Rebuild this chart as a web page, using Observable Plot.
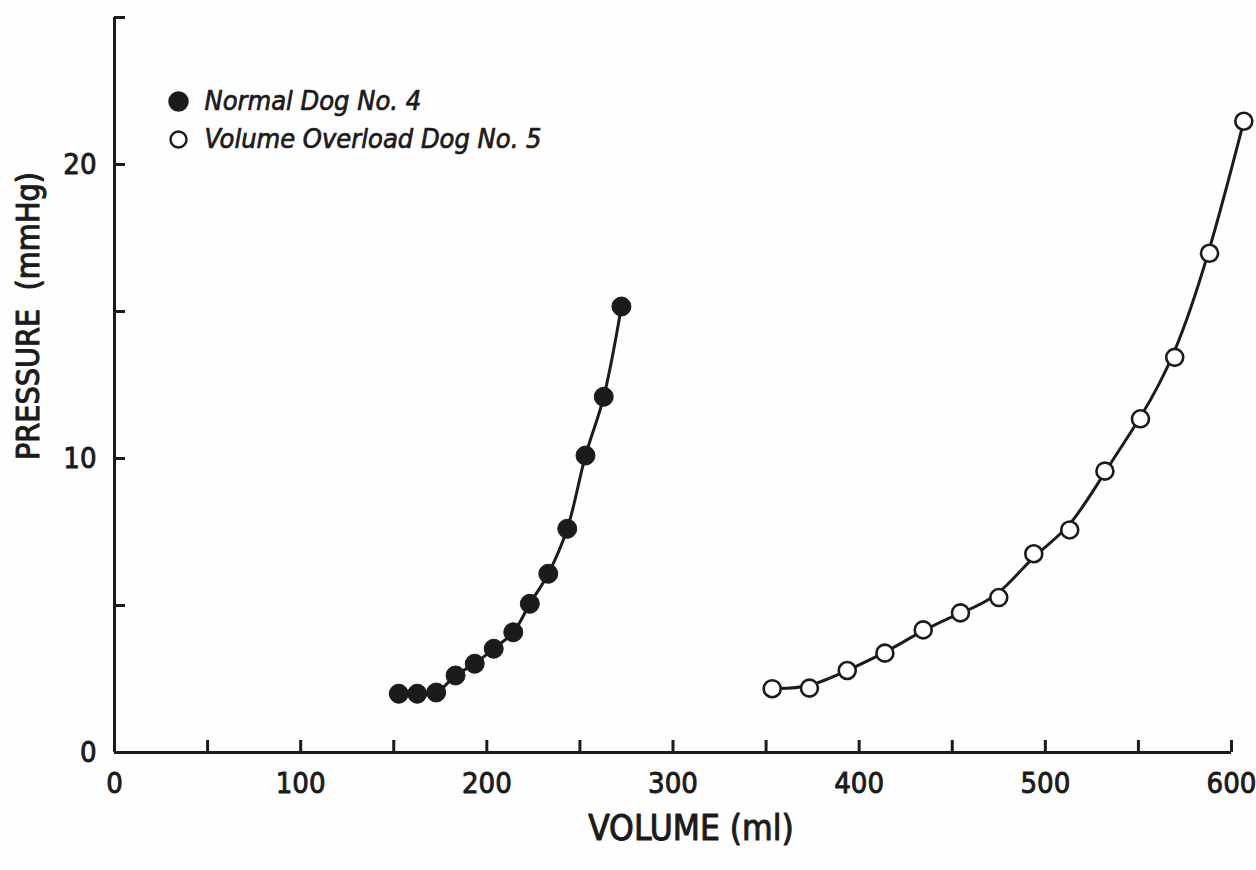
<!DOCTYPE html>
<html>
<head>
<meta charset="utf-8">
<script src="https://cdn.jsdelivr.net/npm/d3@7"></script>
<script src="https://cdn.jsdelivr.net/npm/@observablehq/plot@0.6"></script>
<style>
  html, body { margin: 0; padding: 0; background: #fefefe; }
  #chart svg { display: block; }
</style>
</head>
<body>
<div id="chart"></div>
<script>
// ---- Data ----
const normalVolume   = [152.7, 162.6, 172.8, 183.2, 193.5, 203.7, 214.2, 223.1, 233.0, 243.2, 253.0, 262.8, 272.3];
const normalPressure = [2.0,   2.0,   2.04,  2.62,  3.02,  3.53,  4.09,  5.06,  6.08,  7.61,  10.1,  12.1,  15.17];

const overloadVolume   = [353.3, 373.3, 393.6, 413.8, 434.4, 454.4, 475.0, 493.8, 513.1, 532.0, 551.1, 569.5, 588.2, 606.6];
const overloadPressure = [2.17,  2.19,  2.79,  3.38,  4.17,  4.75,  5.27,  6.76,  7.57,  9.57,  11.35, 13.44, 16.98, 21.47];

const xTickLabels = [0, 100, 200, 300, 400, 500, 600];
const xTickMarks  = [50, 100, 150, 200, 250, 300, 350, 400, 450, 500, 550, 600];
const yTickLabels = [0, 10, 20];
const yTickMarks  = [5, 10, 15, 20, 25];

const legendLabels = ["Normal Dog No. 4", "Volume Overload Dog No. 5"];
const xTitle = "VOLUME (ml)";
const yTitle = "PRESSURE\u00a0\u00a0(mmHg)";

// ---- Build tables ----
const normal = normalVolume.map((v, i) => ({volume: v, pressure: normalPressure[i]}));
const overload = overloadVolume.map((v, i) => ({volume: v, pressure: overloadPressure[i]}));

const ink = "#1b1b1b";
const font = "'DejaVu Sans Condensed', 'Liberation Sans Narrow', sans-serif";

const chart = Plot.plot({
  width: 1256,
  height: 870,
  marginLeft: 114,
  marginRight: 25,
  marginTop: 17,
  marginBottom: 118,
  x: {domain: [0, 600]},
  y: {domain: [0, 25]},
  style: {fontFamily: font, background: "#fefefe", color: ink, overflow: "visible"},
  marks: [
    Plot.ruleY([0], {stroke: ink, strokeWidth: 3}),
    Plot.ruleX([0], {stroke: ink, strokeWidth: 3}),
    Plot.axisX(xTickMarks, {tickSize: -12, fill: "none", stroke: ink, strokeWidth: 3, label: null}),
    Plot.axisX(xTickLabels, {tickSize: 0, tickPadding: 20, fontSize: 29, fill: ink, textStroke: ink, textStrokeWidth: 0.9, label: null}),
    Plot.axisY(yTickMarks, {tickSize: -11, fill: "none", stroke: ink, strokeWidth: 3, label: null}),
    Plot.axisY(yTickLabels, {tickSize: 0, tickPadding: 18, fontSize: 29, fill: ink, textStroke: ink, textStrokeWidth: 0.9, label: null}),

    Plot.line(normal, {x: "volume", y: "pressure", curve: "catmull-rom", stroke: ink, strokeWidth: 3}),
    Plot.line(overload, {x: "volume", y: "pressure", curve: "basis", stroke: ink, strokeWidth: 3}),
    Plot.dot(normal, {x: "volume", y: "pressure", r: 9.5, fill: ink, stroke: ink, strokeWidth: 1}),
    Plot.dot(overload, {x: "volume", y: "pressure", r: 8.5, fill: "#fefefe", stroke: ink, strokeWidth: 2.6}),

    // legend
    Plot.dot([legendLabels[0]], {frameAnchor: "top-left", dx: 64, dy: 84, r: 9.5, fill: ink, stroke: ink}),
    Plot.dot([legendLabels[1]], {frameAnchor: "top-left", dx: 64, dy: 122, r: 8, fill: "#fefefe", stroke: ink, strokeWidth: 2.4}),
    Plot.text([legendLabels[0]], {frameAnchor: "top-left", dx: 90, dy: 84, text: d => d, textAnchor: "start", lineAnchor: "middle", fontStyle: "italic", fontSize: 27, fill: ink, stroke: ink, strokeWidth: 0.7}),
    Plot.text([legendLabels[1]], {frameAnchor: "top-left", dx: 90, dy: 122, text: d => d, textAnchor: "start", lineAnchor: "middle", fontStyle: "italic", fontSize: 27, fill: ink, stroke: ink, strokeWidth: 0.7}),

    // axis titles
    Plot.text([xTitle], {frameAnchor: "bottom", dx: 18, dy: 76, text: d => d, textAnchor: "middle", lineAnchor: "middle", fontSize: 35, fill: ink, stroke: ink, strokeWidth: 1}),
    Plot.text([yTitle], {frameAnchor: "left", dx: -86, dy: -69, rotate: -90, text: d => d, textAnchor: "middle", lineAnchor: "middle", fontSize: 32, fill: ink, stroke: ink, strokeWidth: 1})
  ]
});

document.getElementById("chart").appendChild(chart);
</script>
</body>
</html>
